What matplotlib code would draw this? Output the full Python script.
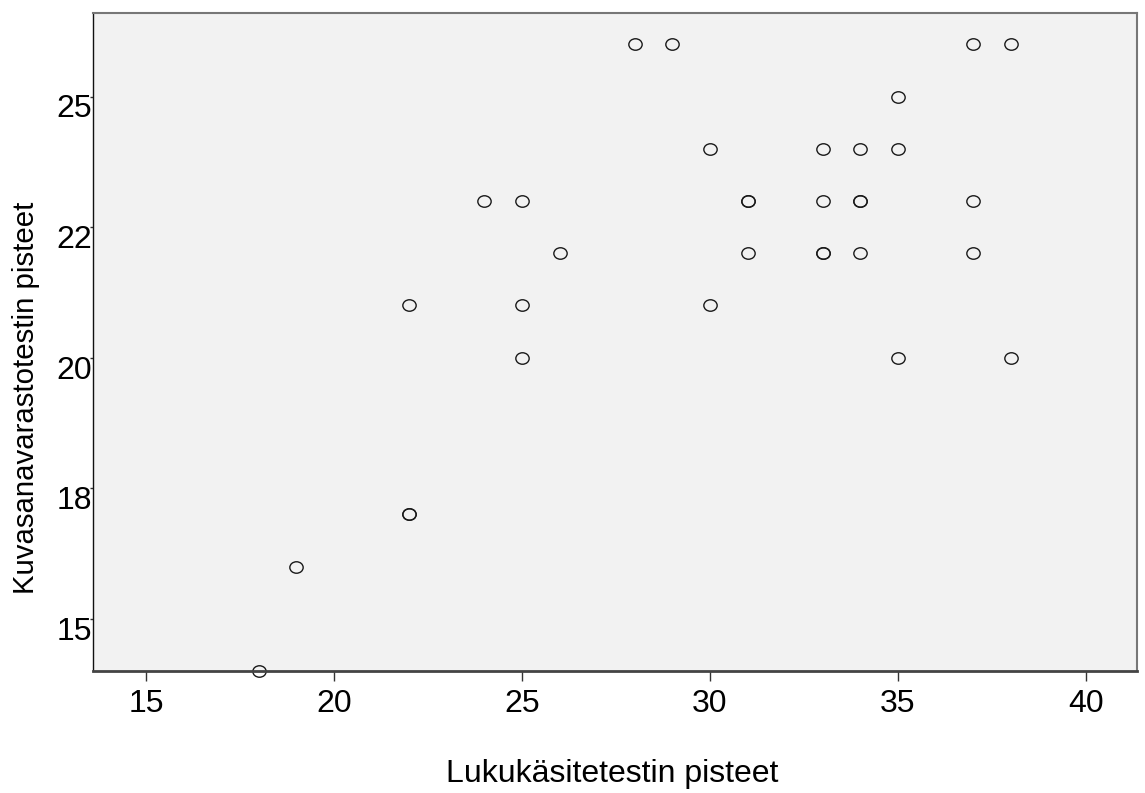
import numpy as np
import matplotlib.pyplot as plt
from matplotlib import font_manager as fm
from matplotlib.path import Path
from matplotlib.transforms import Affine2D, ScaledTranslation

# Arial-tyyppinen fontti, ei kavennettua versiota
font_file = None
for f in fm.fontManager.ttflist:
    if f.fname.endswith('LiberationSans-Regular.ttf'):
        font_file = f.fname
        break
if font_file:
    fp = fm.FontProperties(fname=font_file, size=23)
    fp_y = fm.FontProperties(fname=font_file, size=21.2)
else:
    fp = fm.FontProperties(family='DejaVu Sans', size=21)
    fp_y = fm.FontProperties(family='DejaVu Sans', size=19.5)

# lukukäsitetesti (x) ja kuvasanavarastotesti (y), rivi kerrallaan
lukukasite = [28, 29, 37, 38,
              35,
              30, 33, 34, 35,
              24, 25, 31, 31, 33, 34, 34, 37,
              26, 31, 33, 33, 34, 37,
              22, 25, 30,
              25, 35, 38,
              22, 22,
              19,
              18]
kuvasana = [26, 26, 26, 26,
            25,
            24, 24, 24, 24,
            23, 23, 23, 23, 23, 23, 23, 23,
            22, 22, 22, 22, 22, 22,
            21, 21, 21,
            20, 20, 20,
            17, 17,
            16,
            14]

x_ticks = [15, 20, 25, 30, 35, 40]
y_ticks = [15, 17.5, 20, 22.5, 25]
y_tick_labels = ['15', '18', '20', '22', '25']

fig = plt.figure(figsize=(11.45, 7.93), dpi=100)
ax = fig.add_axes([0.0812, 0.1538, 0.9118, 0.8298])
ax.set_facecolor('#f2f2f2')

# hieman litistetty ympyrä
ellipse = Path.unit_circle().transformed(Affine2D().scale(1.0, 0.86))
ax.plot(lukukasite, kuvasana, linestyle='none', marker=ellipse, ms=9.6,
        mfc='none', mec='#1a1a1a', mew=1.0, clip_on=False)

ax.set_xlim(13.59, 41.36)
ax.set_ylim(14, 26.6)

ax.set_xticks(x_ticks)
ax.set_xticklabels([str(t) for t in x_ticks])
ax.set_yticks(y_ticks)
ax.set_yticklabels(y_tick_labels)

ax.tick_params(axis='x', direction='out', length=7, width=1, color='#333333', pad=6)
ax.tick_params(axis='y', direction='out', length=2, width=1, color='#333333', pad=-1.5)
for lab in ax.get_xticklabels():
    lab.set_fontproperties(fp)
for lab in ax.get_yticklabels():
    lab.set_fontproperties(fp)
    lab.set_verticalalignment('top')
    lab.set_transform(lab.get_transform() + ScaledTranslation(0, 1.5 / 72, fig.dpi_scale_trans))

ax.spines['left'].set_color('#111111')
ax.spines['left'].set_linewidth(1.0)
ax.spines['bottom'].set_color('#444444')
ax.spines['bottom'].set_linewidth(2.0)
ax.spines['top'].set_color('#777777')
ax.spines['top'].set_linewidth(1.5)
ax.spines['right'].set_color('#777777')
ax.spines['right'].set_linewidth(1.5)

fig.text(0.5345, 0.0139, 'Lukukäsitetestin pisteet', ha='center', va='baseline',
         fontproperties=fp)
fig.text(0.023, 1 - 398 / 793, 'Kuvasanavarastotestin pisteet', ha='center', va='center',
         rotation=90, fontproperties=fp_y)

fig.savefig('out.png', dpi=100)
